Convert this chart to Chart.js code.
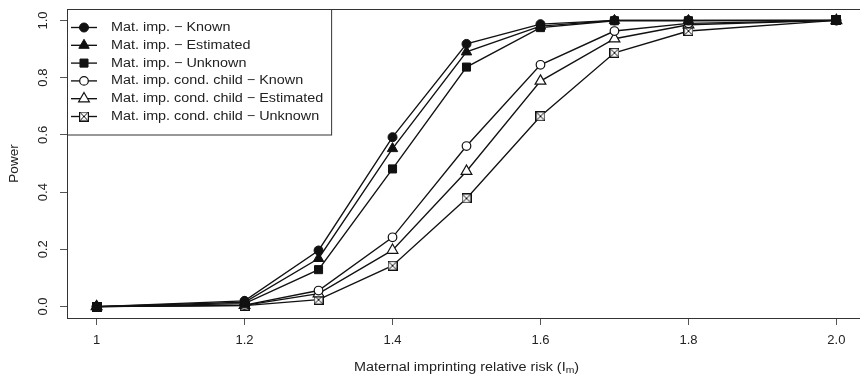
<!DOCTYPE html>
<html lang="en">
<head>
<meta charset="UTF-8">
<title>Power</title>
<style>
  html, body { margin: 0; padding: 0; background: #fff; overflow: hidden; }
  #wrap { width: 870px; height: 379px; }
</style>
</head>
<body>
<div id="wrap"><canvas id="myChart" width="870" height="379" style="width:870px;height:379px"></canvas></div>
<script src="https://cdn.jsdelivr.net/npm/chart.js"></script>
<script>
// data
const riskValues = [1, 1.2, 1.3, 1.4, 1.5, 1.6, 1.7, 1.8, 2.0]
const xTicks = [1, 1.2, 1.4, 1.6, 1.8, 2.0]
const xTickLabels = ['1', '1.2', '1.4', '1.6', '1.8', '2.0']
const yTicks = [0, 0.2, 0.4, 0.6, 0.8, 1.0]
const yTickLabels = ['0.0', '0.2', '0.4', '0.6', '0.8', '1.0']
const seriesNames = [
    'Mat. imp. \u2212 Known',
    'Mat. imp. \u2212 Estimated',
    'Mat. imp. \u2212 Unknown',
    'Mat. imp. cond. child \u2212 Known',
    'Mat. imp. cond. child \u2212 Estimated',
    'Mat. imp. cond. child \u2212 Unknown'
]
const matKnown      = [0, 0.020, 0.196, 0.592, 0.918, 0.987, 1.000, 1.000, 1.000]
const matEstimated  = [0, 0.015, 0.168, 0.552, 0.890, 0.980, 1.000, 1.000, 1.000]
const matUnknown    = [0, 0.010, 0.129, 0.481, 0.837, 0.975, 0.999, 0.999, 1.000]
const condKnown     = [0, 0.005, 0.056, 0.242, 0.561, 0.845, 0.963, 0.990, 1.000]
const condEstimated = [0, 0.004, 0.045, 0.197, 0.473, 0.788, 0.936, 0.985, 1.000]
const condUnknown   = [0, 0.003, 0.024, 0.143, 0.378, 0.665, 0.887, 0.963, 1.000]

const FONT = "'Liberation Sans', Arial, sans-serif"
const TEXT_SX = 1.15   // the reference text is a bit wider than it is tall
Chart.defaults.font.family = FONT
Chart.defaults.font.size = 13
Chart.defaults.color = '#222'

// square with a cross inside (R pch 7)
function boxCross(size){
    const c = document.createElement('canvas')
    c.width = size; c.height = size
    const g = c.getContext('2d')
    g.fillStyle = '#fff'
    g.fillRect(0, 0, size, size)
    g.strokeStyle = '#111'
    g.lineWidth = 1.2
    g.strokeRect(0.6, 0.6, size - 1.2, size - 1.2)
    g.beginPath()
    g.moveTo(1.5, 1.5); g.lineTo(size - 1.5, size - 1.5)
    g.moveTo(size - 1.5, 1.5); g.lineTo(1.5, size - 1.5)
    g.lineWidth = 1
    g.stroke()
    return c
}

function pts(arr){
    return riskValues.map((x, i) => ({x: x, y: arr[i]}))
}

function series(i, arr, style, radius, filled){
    return {
        label: seriesNames[i],
        data: pts(arr),
        borderColor: '#111',
        borderWidth: 1.35,
        pointStyle: style,
        pointRadius: radius,
        pointBorderWidth: filled ? 1 : 1.2,
        pointBackgroundColor: filled ? '#111' : '#fff',
        pointBorderColor: '#111',
        tension: 0
    }
}

function wideText(ctx, text, x, y, align){
    ctx.save()
    ctx.translate(x, y)
    ctx.scale(TEXT_SX, 1)
    ctx.textAlign = align
    ctx.fillText(text, 0, 0)
    ctx.restore()
}

const plotBox = {
    id: 'plotBox',
    afterDraw(chart){
        const {ctx, chartArea: {left, top, right, bottom}} = chart
        ctx.save()
        ctx.strokeStyle = '#333'
        ctx.lineWidth = 1
        ctx.strokeRect(left + 0.5, top + 0.5, right - left, bottom - top)
        ctx.restore()
    }
}

const boxLegend = {
    id: 'boxLegend',
    afterDraw(chart, args, opts){
        const {ctx, chartArea: {left, top}} = chart
        ctx.save()
        ctx.font = '12.5px ' + FONT
        const sets = chart.data.datasets
        let maxW = 0
        sets.forEach(ds => { maxW = Math.max(maxW, ctx.measureText(ds.label).width * TEXT_SX) })
        const w = opts.textX + maxW + 8
        const h = opts.firstRow + opts.rowStep * (sets.length - 1) + 18
        ctx.fillStyle = '#fff'
        ctx.fillRect(left + 0.5, top + 0.5, w, h)
        ctx.strokeStyle = '#333'
        ctx.lineWidth = 1
        ctx.strokeRect(left + 0.5, top + 0.5, w, h)
        sets.forEach((ds, i) => {
            const y = top + opts.firstRow + i * opts.rowStep
            ctx.strokeStyle = ds.borderColor
            ctx.lineWidth = ds.borderWidth
            ctx.beginPath()
            ctx.moveTo(left + 4, y)
            ctx.lineTo(left + 30, y)
            ctx.stroke()
            ctx.fillStyle = ds.pointBackgroundColor
            ctx.strokeStyle = ds.pointBorderColor
            ctx.lineWidth = ds.pointBorderWidth
            Chart.helpers.drawPoint(ctx, {
                pointStyle: ds.pointStyle, radius: ds.pointRadius,
                borderWidth: ds.pointBorderWidth, rotation: 0
            }, left + 17, y)
            ctx.fillStyle = '#222'
            ctx.textBaseline = 'middle'
            wideText(ctx, ds.label, left + opts.textX, y, 'left')
        })
        ctx.restore()
    }
}

const xTitle = {
    id: 'xTitle',
    afterDraw(chart, args, opts){
        const {ctx, chartArea: {left, right}} = chart
        ctx.save()
        ctx.fillStyle = '#222'
        ctx.textBaseline = 'middle'
        const big = '12.5px ' + FONT
        const small = '9px ' + FONT
        const parts = [
            {t: 'Maternal imprinting relative risk (I', f: big, dy: 0},
            {t: 'm', f: small, dy: 3},
            {t: ')', f: big, dy: 0}
        ]
        let total = 0
        parts.forEach(p => { ctx.font = p.f; p.w = ctx.measureText(p.t).width * TEXT_SX; total += p.w })
        let x = (left + right) / 2 - total / 2
        parts.forEach(p => {
            ctx.font = p.f
            wideText(ctx, p.t, x, opts.y + p.dy, 'left')
            x += p.w
        })
        ctx.restore()
    }
}

const ctx = document.getElementById('myChart')
new Chart(ctx, {
    type: 'line',
    data: {
        datasets: [
            series(0, matKnown, 'circle', 4.5, true),
            series(1, matEstimated, 'triangle', 6, true),
            series(2, matUnknown, 'rect', 5.7, true),
            series(3, condKnown, 'circle', 4.3, false),
            series(4, condEstimated, 'triangle', 6.2, false),
            series(5, condUnknown, boxCross(10), 5, false)
        ]
    },
    options: {
        responsive: false,
        animation: false,
        layout: { autoPadding: false, padding: { left: 0, top: 9, right: 4, bottom: 0 } },
        scales: {
            x: {
                type: 'linear',
                min: 0.96,
                max: 2.04,
                afterBuildTicks: s => { s.ticks = xTicks.map(v => ({value: v})) },
                afterFit: s => { s.height = 61; s.paddingLeft = 0; s.paddingRight = 0 },
                grid: { drawOnChartArea: false, tickLength: 7, color: '#555', tickWidth: 1 },
                border: { display: false },
                ticks: {
                    autoSkip: false, maxRotation: 0, padding: 8,
                    callback: (v, i) => xTickLabels[i]
                }
            },
            y: {
                min: -0.04,
                max: 1.04,
                afterBuildTicks: s => { s.ticks = yTicks.map(v => ({value: v})) },
                afterFit: s => { s.width = 67; s.paddingTop = 0; s.paddingBottom = 0 },
                grid: { drawOnChartArea: false, tickLength: 7, color: '#555', tickWidth: 1 },
                border: { display: false },
                ticks: {
                    autoSkip: false, minRotation: 90, maxRotation: 90,
                    crossAlign: 'center', padding: 8,
                    callback: (v, i) => yTickLabels[i]
                },
                title: { display: true, text: 'Power', font: { size: 13.5 }, padding: { top: 6, bottom: 0 } }
            }
        },
        plugins: {
            legend: { display: false },
            tooltip: { enabled: false },
            boxLegend: { textX: 44, firstRow: 18.5, rowStep: 17.8 },
            xTitle: { y: 368 }
        }
    },
    plugins: [plotBox, boxLegend, xTitle]
})
</script>
</body>
</html>
